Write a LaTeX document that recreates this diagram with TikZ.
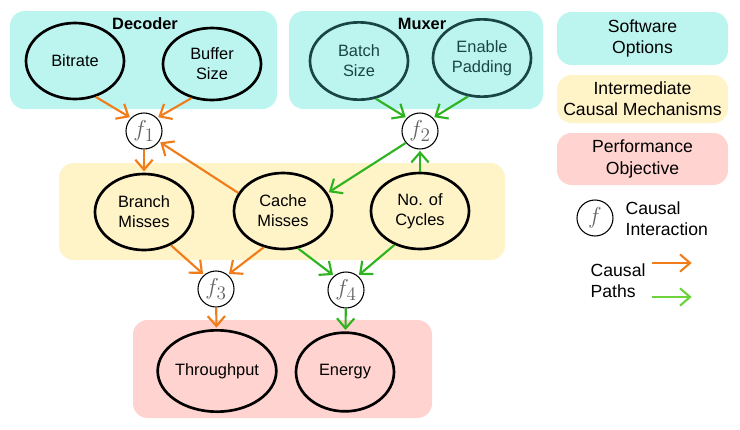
\documentclass[tikz,border=0pt]{standalone}
\usepackage{fontspec}
\setmainfont{Liberation Sans}
\usetikzlibrary{arrows.meta,shapes.geometric}
\definecolor{cyanbox}{RGB}{188,245,240}
\definecolor{yelbox}{RGB}{255,243,200}
\definecolor{pinkbox}{RGB}{255,212,208}
\definecolor{orarr}{RGB}{240,125,25}
\definecolor{grarr}{RGB}{45,180,30}
\definecolor{lgarr}{RGB}{110,210,60}
\definecolor{tealln}{RGB}{25,70,68}
\definecolor{fgray}{RGB}{100,100,100}
\begin{document}
\begin{tikzpicture}[x=0.75pt,y=-0.75pt,
  group/.style={fill=#1, draw=none, rounded corners=11pt},
  var/.style={ellipse, draw=black, line width=2pt, minimum width=73.5pt, minimum height=57pt,
    align=center, inner sep=0pt, font=\fontsize{12.3}{15}\selectfont},
  tealvar/.style={var, draw=tealln, text=tealln},
  fnode/.style={circle, draw=black, line width=0.8pt, minimum size=27pt, inner sep=0pt,
    text=fgray, font=\fontsize{19}{21}\selectfont, fill=white},
  legbox/.style={draw=none, rounded corners=11pt, minimum width=128.25pt, align=center,
    font=\fontsize{13.2}{16}\selectfont},
  title/.style={font=\fontsize{12.3}{15}\selectfont\bfseries},
  ltext/.style={anchor=west, align=left, font=\fontsize{13.2}{16}\selectfont},
  oarrow/.style={draw=orarr, line width=1.6pt, -{Straight Barb[length=7.5pt,width=13pt,line width=1.6pt]}, shorten >=1pt},
  garrow/.style={draw=grarr, line width=1.6pt, -{Straight Barb[length=7.5pt,width=13pt,line width=1.6pt]}, shorten >=1pt}
]
\useasboundingbox (0,0) rectangle (740,429);

% group boxes
\path[group=cyanbox] (10,11) rectangle (277,109);
\path[group=cyanbox] (289,11) rectangle (543,109);
\path[group=yelbox] (59,163) rectangle (505,260);
\path[group=pinkbox] (133,320) rectangle (432,418);

\node[title] (dectitle) at (145,24) {Decoder};
\node[title] (muxtitle) at (422,24) {Muxer};

% option nodes
\node[var, minimum height=57pt] (bitrate) at (75,61) {Bitrate};
\node[var, minimum height=54pt] (buffer) at (212,64) {Buffer\\Size};
\node[tealvar, minimum height=58pt] (batch) at (359,61) {Batch\\Size};
\node[tealvar, minimum height=58pt] (padding) at (482,58) {Enable\\Padding};

% intermediate
\node[var] (branch) at (144,212) {Branch\\Misses};
\node[var] (cache) at (283,211) {Cache\\Misses};
\node[var] (cycles) at (420,211) {No. of\\Cycles};

% objectives
\node[var, minimum height=61pt] (through) at (217,371) {Throughput};
\node[var, minimum height=59pt] (energy) at (345,372) {Energy};

% interaction nodes
\node[fnode] (f1) at (144,131) {$f_1$};
\node[fnode] (f2) at (420,131) {$f_2$};
\node[fnode] (f3) at (216,289) {$f_3$};
\node[fnode] (f4) at (346,290) {$f_4$};

% orange paths
\draw[oarrow] (bitrate.-60) -- (f1.135);
\draw[oarrow] (buffer.-121) -- (f1.45);
\draw[oarrow] (f1) -- (branch);
\draw[oarrow] (cache.158) -- (f1.-35);
\draw[oarrow] (branch.-51) -- (f3.130);
\draw[oarrow] (cache.-118) -- (f3.50);
\draw[oarrow] (f3) -- (through);

% green paths
\draw[garrow] (batch.-66) -- (f2.135);
\draw[garrow] (padding.-110) -- (f2.45);
\draw[garrow] (f2.-140) -- (cache.22);
\draw[garrow] (cycles) -- (f2);
\draw[garrow] (cache.-68) -- (f4.130);
\draw[garrow] (cycles.-127) -- (f4.50);
\draw[garrow] (f4) -- (energy);

% legend
\node[legbox, fill=cyanbox, minimum height=39.75pt] (legsw) at (642.5,38.5) {Software\\Options};
\node[legbox, fill=yelbox, minimum height=36pt] (legim) at (642.5,99) {Intermediate\\Causal Mechanisms};
\node[legbox, fill=pinkbox, minimum height=39pt] (legpo) at (642.5,159) {Performance\\Objective};
\node[fnode] (legf) at (595,218) {$f$};
\node[ltext] (legci) at (621,219) {Causal\\Interaction};
\node[ltext] (legcp) at (586,281) {Causal\\Paths};
\coordinate (lo1) at (652,263);
\coordinate (lo2) at (693,263);
\coordinate (lg1) at (652,297);
\coordinate (lg2) at (693,297);
\draw[oarrow] (lo1) -- (lo2);
\draw[garrow, draw=lgarr] (lg1) -- (lg2);
\end{tikzpicture}
\end{document}
